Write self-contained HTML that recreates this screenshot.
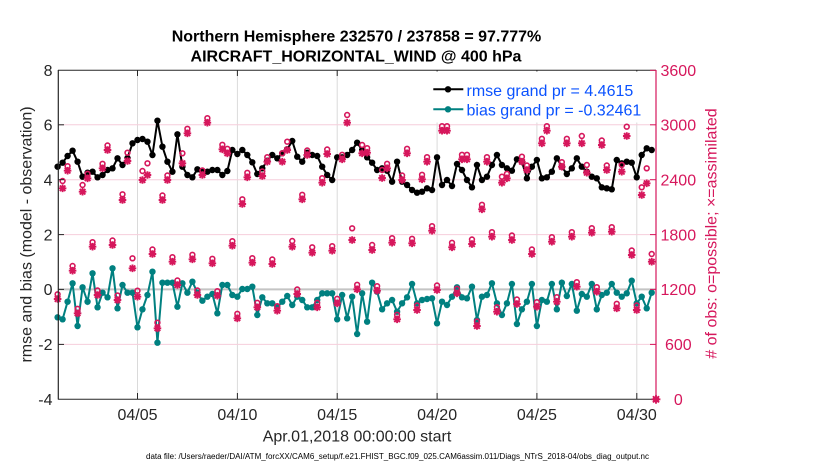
<!DOCTYPE html>
<html><head><meta charset="utf-8">
<style>
html,body{margin:0;padding:0;background:#fff;width:830px;height:470px;overflow:hidden}
svg{display:block}
text{font-family:"Liberation Sans",Arial,sans-serif}
</style></head>
<body>
<svg width="830" height="470" viewBox="0 0 830 470" xmlns="http://www.w3.org/2000/svg">
<defs>
<marker id="dk" markerUnits="userSpaceOnUse" markerWidth="8" markerHeight="8" viewBox="-4 -4 8 8" refX="0" refY="0" overflow="visible"><circle r="3.2" fill="#000"/></marker>
<marker id="dt" markerUnits="userSpaceOnUse" markerWidth="8" markerHeight="8" viewBox="-4 -4 8 8" refX="0" refY="0" overflow="visible"><circle r="3.2" fill="#008080"/></marker>
<marker id="st" markerUnits="userSpaceOnUse" markerWidth="10" markerHeight="10" viewBox="-5 -5 10 10" refX="0" refY="0" overflow="visible"><path d="M-3.8 0H3.8M0-3.8V3.8M-2.8-2.8L2.8 2.8M-2.8 2.8L2.8-2.8" stroke="#d6175c" stroke-width="1.9" fill="none"/></marker>
<marker id="oc" markerUnits="userSpaceOnUse" markerWidth="10" markerHeight="10" viewBox="-5 -5 10 10" refX="0" refY="0" overflow="visible"><circle r="2.4" fill="none" stroke="#d6175c" stroke-width="1.6"/></marker>
</defs>
<rect x="0" y="0" width="830" height="470" fill="#fff"/>

<!-- grid -->
<g stroke="#dadada" stroke-width="1">
<line x1="137.5" y1="70" x2="137.5" y2="399"/>
<line x1="237.4" y1="70" x2="237.4" y2="399"/>
<line x1="337.2" y1="70" x2="337.2" y2="399"/>
<line x1="437.1" y1="70" x2="437.1" y2="399"/>
<line x1="536.9" y1="70" x2="536.9" y2="399"/>
<line x1="636.8" y1="70" x2="636.8" y2="399"/>
</g>
<g stroke="#f6cedb" stroke-width="1">
<line x1="58" y1="124.8" x2="656" y2="124.8"/>
<line x1="58" y1="179.7" x2="656" y2="179.7"/>
<line x1="58" y1="234.6" x2="656" y2="234.6"/>
<line x1="58" y1="344.4" x2="656" y2="344.4"/>
</g>
<line x1="58" y1="289.4" x2="656" y2="289.4" stroke="#c4c4c4" stroke-width="2"/>

<!-- data -->
<g transform="translate(57.6 0) scale(0.9985 1)">
<polyline fill="none" stroke="#000" stroke-width="2" marker-start="url(#dk)" marker-mid="url(#dk)" marker-end="url(#dk)" points="0,166.7 5,162.7 10,156 15,150.7 20,161.7 25,176.7 30,172.7 35,171.7 40,177.3 45,175 50,170 55,168.3 60,158.3 65,165 70,158 75,143.3 80,140 85,139 90,141.7 95,155 100,120.7 105,146.7 110,161.7 115,171.7 120,134.3 125,166.7 130,175 135,177.3 140,169.3 145,171.7 150,171.7 155,170 160,170 165,175 170,171 175,150 180,154 185,150 190,155 195,162.3 200,174 205,168.3 210,160.7 215,155 220,158.3 225,153.3 230,149.3 235,141 240,156.7 245,161.7 250,152.7 255,155 260,156 265,166.7 270,175 275,180 280,157.3 285,157.3 290,155 295,150 300,142.7 305,150 310,157.3 315,162.7 320,170 325,168.3 330,170.7 335,181.7 340,161.7 345,181.7 350,185 355,190 360,192.7 365,191.7 370,188.3 375,190 380,157.3 385,185 390,180 395,186 400,164 405,170 410,180 415,187.3 420,165 425,180 430,176.7 435,165 440,155 445,165 450,168.3 455,170.7 460,159.3 465,161.7 470,178.3 475,166.7 480,160 485,178.3 490,177.3 495,171.7 500,158.3 505,166.7 510,174 515,168.3 520,158.3 525,166.7 530,171.7 535,176.7 540,178.3 545,187.3 550,188.3 555,189.3 560,160 565,163.3 570,161.7 575,162.7 580,177.3 585,155 590,148.3 595,150"/>
<polyline fill="none" stroke="#008080" stroke-width="2" marker-start="url(#dt)" marker-mid="url(#dt)" marker-end="url(#dt)" points="0,317.3 5,319.3 10,301.7 15,283.3 20,326 25,287.3 30,301.7 35,273.3 40,307.3 45,292.7 50,297.3 55,268.3 60,308.3 65,285 70,292.7 75,292.7 80,327.3 85,309.3 90,295 95,271.7 100,342.7 105,282.7 110,282.7 115,282.7 120,306.7 125,283.3 130,292.7 135,281.7 140,292.7 145,300.7 150,296.7 155,294 160,313.3 165,285 170,285 175,295 180,296.7 185,289 190,289 195,286.7 200,315 205,297.3 210,303.3 215,303.3 220,307.3 225,301.7 230,296 235,305 240,296.7 245,300 250,307.3 255,307.3 260,300 265,293.3 270,293.3 275,293.3 280,319.3 285,295 290,318.3 295,296.7 300,334 305,293.3 310,321.7 315,282.7 320,291.7 325,309.3 330,303.3 335,300 340,311.7 345,303.3 350,297.3 355,284 360,303.3 365,300 370,299 375,298.3 380,323.3 385,301.7 390,305 395,296.7 400,287.3 405,297.3 410,298.3 415,286.7 420,320 425,296.7 430,295 435,283.3 440,303.3 445,315 450,303.3 455,284 460,324 465,309.3 470,301.7 475,284 480,326 485,300 490,301.7 495,284 500,309.3 505,282.7 510,296 515,284 520,310.7 525,294 530,296.7 535,284 540,309.3 545,295 550,292.7 555,284 560,292.7 565,296.7 570,293.3 575,280.7 580,303.3 585,296.7 590,308.3 595,292.7"/>
<polyline fill="none" stroke="none" marker-start="url(#oc)" marker-mid="url(#oc)" marker-end="url(#oc)" points="0,294.3 5,181 10,166.2 15,266 20,308.8 25,185 30,173.8 35,242.2 40,290.5 45,163.8 50,145.5 55,240.5 60,295.5 65,194.3 70,152.7 75,258.3 80,290.7 85,171 90,163.3 95,249.5 100,322.7 105,195.5 110,175.5 115,257.2 120,280.5 125,153.3 130,128.8 135,254.8 140,290.5 145,170.5 150,118.2 155,258.8 160,291.2 165,144.8 170,148.8 175,241.2 180,313.8 185,199.3 190,172.8 195,258.2 200,302.8 205,171.5 210,157.2 215,259.5 220,306.2 225,153.3 230,141.7 235,241 240,289.5 245,194.8 250,150.5 255,247.3 260,302.8 265,178.2 270,149.5 275,246.2 280,298.8 285,154.8 290,115 295,228.3 300,284.8 305,145 310,148.2 315,245 320,286.2 325,170 330,163.8 335,238.2 340,314.8 345,175.5 350,148.8 355,238.8 360,305.5 365,174.8 370,157.2 375,226.2 380,285.5 385,126.2 390,126.2 395,242.8 400,288.8 405,154.8 410,154.8 415,239.5 420,321.5 425,204.8 430,157.2 435,232.2 440,307.2 445,176.7 450,173.8 455,235.5 460,299.5 465,156.7 470,165.5 475,249.5 480,302.2 485,138.8 490,126.2 495,237.2 500,297.2 505,162.2 510,138.8 515,232.2 520,282.2 525,136 530,165 535,228.2 540,287.2 545,140.5 550,165.5 555,227.2 560,303.8 565,165 570,126.7 575,250.5 580,305.5 585,187.3 590,168.3 595,254"/>
<polyline fill="none" stroke="none" marker-start="url(#st)" marker-mid="url(#st)" marker-end="url(#st)" points="0,299 5,188.3 10,170.7 15,270.7 20,313.3 25,191.7 30,178.3 35,246.7 40,295 45,168.3 50,150 55,245 60,300 65,200 70,161 75,268.3 80,296.7 85,180 90,175 95,254 100,328.3 105,200 110,180 115,261.7 120,285 125,163.3 130,133.3 135,259.3 140,295 145,175 150,122.7 155,263.3 160,295.7 165,149.3 170,153.3 175,245.7 180,318.3 185,204 190,177.3 195,262.7 200,307.3 205,176 210,161.7 215,264 220,310.7 225,161.7 230,150 235,246.7 240,294 245,199.3 250,155 255,252.7 260,307.3 265,182.7 270,154 275,250.7 280,303.3 285,159.3 290,122.7 295,240 300,289.3 305,153.3 310,152.7 315,250 320,290.7 325,178 330,168.3 335,242.7 340,319.3 345,180 350,153.3 355,243.3 360,310 365,179.3 370,161.7 375,230.7 380,290 385,130.7 390,130.7 395,247.3 400,293.3 405,159.3 410,159.3 415,244 420,326 425,209.3 430,161.7 435,236.7 440,311.7 445,182.7 450,178.3 455,240 460,304 465,161.7 470,170 475,254 480,306.7 485,143.3 490,130.7 495,241.7 500,301.7 505,166.7 510,143.3 515,236.7 520,286.7 525,143.3 530,172.7 535,232.7 540,291.7 545,145 550,170 555,231.7 560,308.3 565,171.7 570,136 575,255 580,310 585,195 590,183.3 595,261.7"/>
</g>

<!-- axes -->
<line x1="58" y1="70.3" x2="656" y2="70.3" stroke="#262626" stroke-width="1"/>
<line x1="58" y1="399.3" x2="656" y2="399.3" stroke="#262626" stroke-width="1"/>
<line x1="58.3" y1="70" x2="58.3" y2="399.5" stroke="#262626" stroke-width="1.2"/>
<line x1="656" y1="70" x2="656" y2="399.5" stroke="#d6175c" stroke-width="1.2"/>
<g stroke="#262626" stroke-width="1">
<line x1="58" y1="124.8" x2="64" y2="124.8"/>
<line x1="58" y1="179.7" x2="64" y2="179.7"/>
<line x1="58" y1="234.6" x2="64" y2="234.6"/>
<line x1="58" y1="289.4" x2="64" y2="289.4"/>
<line x1="58" y1="344.4" x2="64" y2="344.4"/>
<line x1="137.5" y1="399" x2="137.5" y2="393"/>
<line x1="237.4" y1="399" x2="237.4" y2="393"/>
<line x1="337.2" y1="399" x2="337.2" y2="393"/>
<line x1="437.1" y1="399" x2="437.1" y2="393"/>
<line x1="536.9" y1="399" x2="536.9" y2="393"/>
<line x1="636.8" y1="399" x2="636.8" y2="393"/>
<line x1="137.5" y1="70" x2="137.5" y2="76"/>
<line x1="237.4" y1="70" x2="237.4" y2="76"/>
<line x1="337.2" y1="70" x2="337.2" y2="76"/>
<line x1="437.1" y1="70" x2="437.1" y2="76"/>
<line x1="536.9" y1="70" x2="536.9" y2="76"/>
<line x1="636.8" y1="70" x2="636.8" y2="76"/>
</g>
<g stroke="#d6175c" stroke-width="1">
<line x1="650" y1="70.3" x2="656" y2="70.3"/>
<line x1="650" y1="124.8" x2="656" y2="124.8"/>
<line x1="650" y1="179.7" x2="656" y2="179.7"/>
<line x1="650" y1="234.6" x2="656" y2="234.6"/>
<line x1="650" y1="289.4" x2="656" y2="289.4"/>
<line x1="650" y1="344.4" x2="656" y2="344.4"/>
</g>
<circle cx="656" cy="399.3" r="3.2" fill="#d6175c"/>
<path d="M651.6 399.3H660.4M656 394.9V403.7M652.9 396.2L659.1 402.4M652.9 402.4L659.1 396.2" stroke="#d6175c" stroke-width="1.8"/>

<!-- legend -->
<rect x="428" y="71.5" width="222" height="51" fill="#fff"/>
<line x1="433.3" y1="89.3" x2="463.3" y2="89.3" stroke="#000" stroke-width="2"/>
<circle cx="448" cy="89.3" r="3.2" fill="#000"/>
<line x1="433.3" y1="109.3" x2="463.3" y2="109.3" stroke="#008080" stroke-width="2"/>
<circle cx="448" cy="109.3" r="3.2" fill="#008080"/>
<text x="466.5" y="96" font-size="16" fill="#0a52ff">rmse grand pr = 4.4615</text>
<text x="466.5" y="115.7" font-size="16" fill="#0a52ff">bias grand pr = -0.32461</text>

<!-- tick labels -->
<g font-size="16" fill="#262626" text-anchor="end">
<text x="52.5" y="76">8</text>
<text x="52.5" y="130.6">6</text>
<text x="52.5" y="185.5">4</text>
<text x="52.5" y="240.4">2</text>
<text x="52.5" y="295.2">0</text>
<text x="52.5" y="350.2">-2</text>
<text x="52.5" y="405.1">-4</text>
</g>
<g font-size="16" fill="#d6175c" text-anchor="middle">
<text x="678.3" y="76">3600</text>
<text x="678.3" y="130.6">3000</text>
<text x="678.3" y="185.5">2400</text>
<text x="678.3" y="240.4">1800</text>
<text x="678.3" y="295.2">1200</text>
<text x="678.3" y="350.2">600</text>
<text x="678.3" y="405.1">0</text>
</g>
<g font-size="16" fill="#262626" text-anchor="middle">
<text x="137.5" y="420">04/05</text>
<text x="237.4" y="420">04/10</text>
<text x="337.2" y="420">04/15</text>
<text x="437.1" y="420">04/20</text>
<text x="536.9" y="420">04/25</text>
<text x="636.8" y="420">04/30</text>
<text x="357" y="441.5">Apr.01,2018 00:00:00 start</text>
</g>

<!-- titles and labels -->
<text x="356.5" y="41.5" text-anchor="middle" font-size="16" font-weight="bold" fill="#000">Northern Hemisphere 232570 / 237858 = 97.777%</text>
<text x="356" y="61.5" text-anchor="middle" font-size="16" font-weight="bold" fill="#000">AIRCRAFT_HORIZONTAL_WIND @ 400 hPa</text>
<text transform="translate(31.5 234.5) rotate(-90)" text-anchor="middle" font-size="16" fill="#262626">rmse and bias (model - observation)</text>
<text transform="translate(716.5 233.5) rotate(-90)" text-anchor="middle" font-size="16" fill="#d6175c"># of obs: o=possible; ×=assimilated</text>
<text x="397.5" y="459" text-anchor="middle" font-size="8" fill="#000" textLength="503" lengthAdjust="spacingAndGlyphs">data file: /Users/raeder/DAI/ATM_forcXX/CAM6_setup/f.e21.FHIST_BGC.f09_025.CAM6assim.011/Diags_NTrS_2018-04/obs_diag_output.nc</text>
</svg>
</body></html>
